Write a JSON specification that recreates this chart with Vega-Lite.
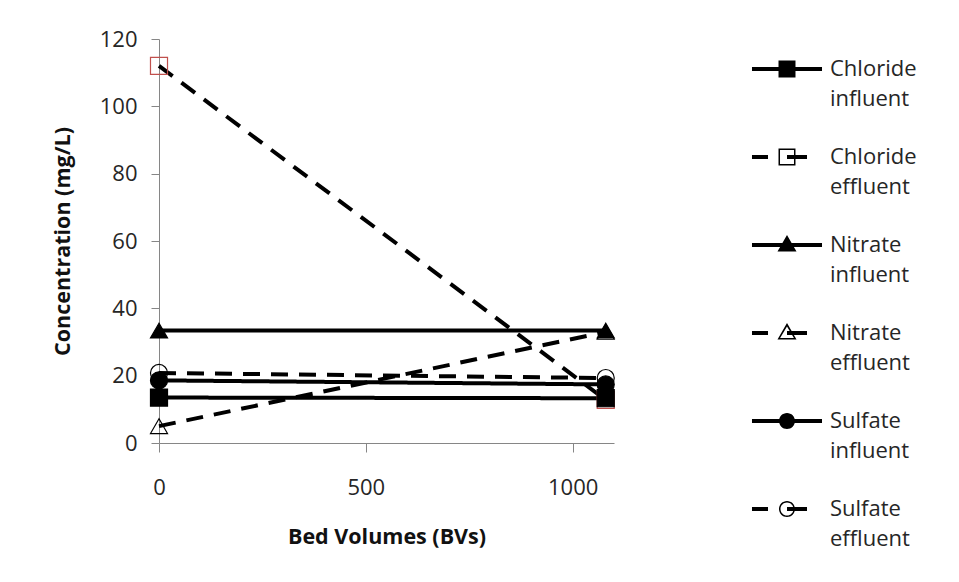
{
  "$schema": "https://vega.github.io/schema/vega-lite/v6.json",
  "width": 455,
  "height": 404,
  "autosize": "none",
  "padding": {"left": 159, "top": 39, "right": 345, "bottom": 139},
  "background": "white",
  "config": {
    "font": "Open Sans",
    "view": {"stroke": null},
    "axis": {"labelColor": "#262626", "titleColor": "#111111", "labelFont": "Open Sans", "titleFont": "Open Sans", "labelFlush": false}
  },
  "data": {
    "values": [
      {"series": "Chloride effluent", "bv": 0, "conc": 112},
      {"series": "Chloride effluent", "bv": 1080, "conc": 12.8},
      {"series": "Nitrate effluent", "bv": 0, "conc": 5},
      {"series": "Nitrate effluent", "bv": 1080, "conc": 33},
      {"series": "Sulfate effluent", "bv": 0, "conc": 20.8},
      {"series": "Sulfate effluent", "bv": 1080, "conc": 19.3},
      {"series": "Chloride influent", "bv": 0, "conc": 13.5},
      {"series": "Chloride influent", "bv": 1080, "conc": 13.3},
      {"series": "Nitrate influent", "bv": 0, "conc": 33.4},
      {"series": "Nitrate influent", "bv": 1080, "conc": 33.4},
      {"series": "Sulfate influent", "bv": 0, "conc": 18.6},
      {"series": "Sulfate influent", "bv": 1080, "conc": 17.4}
    ]
  },
  "encoding": {
    "x": {
      "field": "bv", "type": "quantitative",
      "scale": {"domain": [0, 1100], "nice": false, "zero": false},
      "axis": {
        "title": "Bed Volumes (BVs)", "values": [0, 500, 1000], "format": "d", "grid": false, "labelFlush": false,
        "domainColor": "#868686", "tickColor": "#868686", "tickSize": 9,
        "labelFontSize": 22, "labelPadding": 25, "titleFontSize": 21.5, "titleFontWeight": "bold", "titlePadding": 28
      }
    },
    "y": {
      "field": "conc", "type": "quantitative",
      "scale": {"domain": [0, 120], "nice": false},
      "axis": {
        "title": "Concentration (mg/L)", "values": [0, 20, 40, 60, 80, 100, 120], "grid": false, "labelFlush": false,
        "domainColor": "#868686", "tickColor": "#868686", "tickSize": 8,
        "labelFontSize": 22, "labelPadding": 14, "titleFontSize": 21.5, "titleFontWeight": "bold", "titlePadding": 25
      }
    }
  },
  "layer": [
    {
      "mark": {"type": "line", "color": "black", "strokeWidth": 4},
      "encoding": {
        "strokeDash": {
          "field": "series", "type": "nominal",
          "scale": {
            "domain": ["Chloride influent", "Chloride effluent", "Nitrate influent", "Nitrate effluent", "Sulfate influent", "Sulfate effluent"],
            "range": [[1, 0], [17, 11], [1, 0], [17, 11], [1, 0], [17, 11]]
          },
          "legend": {
            "title": null,
            "orient": "right",
            "offset": 143,
            "padding": 0,
            "symbolSize": 3600,
            "symbolStrokeWidth": 0,
            "labelExpr": "split(datum.label, ' ')",
            "labelFont": "Open Sans",
            "labelFontSize": 22,
            "labelColor": "#262626",
            "labelOffset": 13,
            "labelBaseline": "middle",
            "rowPadding": 17,
            "encoding": {
              "symbols": {
                "shape": {"value": {"expr": "['M-1.167,-0.067H1.167V0.067H-1.167Z M-0.283,-0.283H0.283V0.283H-0.283Z','M-1.167,-0.067H-0.633V0.067H-1.167Z M0,-0.067H0.667V0.067H0Z M-0.283,-0.283H0.283V0.283H-0.283Z M-0.233,-0.233V0.233H0.233V-0.233Z','M-1.167,-0.067H1.167V0.067H-1.167Z M0,-0.333L0.317,0.217H-0.317Z','M-1.167,-0.067H-0.633V0.067H-1.167Z M0,-0.067H0.667V0.067H0Z M0,-0.333L0.317,0.217H-0.317Z M0,-0.22L-0.23,0.17H0.23Z','M-1.167,-0.067H1.167V0.067H-1.167Z M-0.267,0A0.267,0.267 0 1,1 0.267,0A0.267,0.267 0 1,1 -0.267,0Z','M-1.167,-0.067H-0.633V0.067H-1.167Z M0,-0.067H0.667V0.067H0Z M-0.267,0A0.267,0.267 0 1,1 0.267,0A0.267,0.267 0 1,1 -0.267,0Z M-0.217,0A0.217,0.217 0 1,0 0.217,0A0.217,0.217 0 1,0 -0.217,0Z'][indexof(['Chloride influent','Chloride effluent','Nitrate influent','Nitrate effluent','Sulfate influent','Sulfate effluent'], datum.value)]"}},
                "fill": {"value": "black"},
                "stroke": {"value": "transparent"},
                "strokeWidth": {"value": 0},
                "size": {"value": 3600},
                "opacity": {"value": 1}
              },
              "labels": {"lineHeight": {"value": 30}}
            }
          }
        }
      }
    },
    {
      "mark": {"type": "point", "opacity": 1, "strokeWidth": 1.2, "size": 290},
      "encoding": {
        "shape": {
          "field": "series", "type": "nominal", "legend": null,
          "scale": {
            "range": ["square", "square", "triangle-up", "triangle-up", "circle", "circle"]
          }
        },
        "fill": {
          "field": "series", "type": "nominal", "legend": null,
          "scale": {
            "range": ["transparent", "black", "transparent", "black", "transparent", "black"]
          }
        },
        "stroke": {
          "field": "series", "type": "nominal", "legend": null,
          "scale": {
            "range": ["#c0504d", "black", "black", "black", "black", "black"]
          }
        }
      }
    }
  ]
}
